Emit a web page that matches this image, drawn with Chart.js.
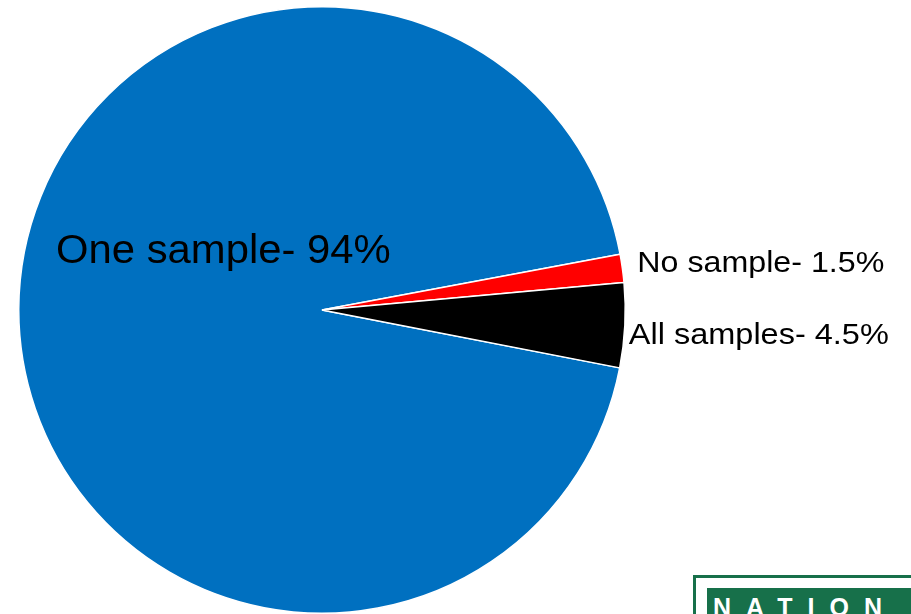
<!DOCTYPE html>
<html>
<head>
<meta charset="utf-8">
<script src="https://cdn.jsdelivr.net/npm/chart.js@4/dist/chart.umd.min.js"></script>
<style>
  html, body { margin: 0; padding: 0; background: #fff; overflow: hidden; }
  #wrap { position: relative; width: 911px; height: 614px; }
  #logo {
    position: absolute; left: 693px; top: 575px; width: 240px; height: 60px;
    border: 3px solid #17704a; box-sizing: border-box; background: #fff;
  }
  #logo span {
    position: absolute; left: 11px; top: 10px; right: 0; height: 50px;
    background: #17704a; color: #fff; font: bold 25px 'Liberation Sans', Arial, sans-serif;
    letter-spacing: 15px; padding-left: 6px; padding-top: 7px; box-sizing: border-box;
    line-height: 1;
  }
</style>
</head>
<body>
<div id="wrap">
  <canvas id="pieChart" width="911" height="614"></canvas>
  <div id="logo"><span>NATION</span></div>
</div>
<script>
// Sampling outcome shares (%)
const labels = ['One sample', 'No sample', 'All samples'];
const values = [94, 1.5, 4.5];
const colors = ['#0070C0', '#FF0000', '#000000'];
const labelTexts = ['One sample- 94%', 'No sample- 1.5%', 'All samples- 4.5%'];

// label placement relative to pie centre / outer edge (text is a bit stretched wide in the original)
const labelStyle = [
    { size: 41, stretch: 1.02, mode: 'center', dx: -266, dy: -58 },
    { size: 29, stretch: 1.11, mode: 'edge', dx: 15, dy: -4 },
    { size: 29, stretch: 1.12, mode: 'edge', dx: 4, dy: 11 }
];

const sliceLabels = {
    id: 'sliceLabels',
    afterDatasetsDraw(chart) {
        const ctx = chart.ctx;
        const meta = chart.getDatasetMeta(0);
        meta.data.forEach((arc, i) => {
            const st = labelStyle[i];
            const mid = (arc.startAngle + arc.endAngle) / 2;
            let x, y;
            if (st.mode === 'edge') {
                x = arc.x + arc.outerRadius * Math.cos(mid) + st.dx;
                y = arc.y + arc.outerRadius * Math.sin(mid) + st.dy;
            } else {
                x = arc.x + st.dx;
                y = arc.y + st.dy;
            }
            ctx.save();
            ctx.fillStyle = '#000';
            ctx.textAlign = 'left';
            ctx.textBaseline = 'middle';
            ctx.font = st.size + "px 'Liberation Sans', Arial, sans-serif";
            ctx.translate(x, y);
            ctx.scale(st.stretch, 1);
            ctx.fillText(labelTexts[i], 0, 0);
            ctx.restore();
        });
    }
};

new Chart(document.getElementById('pieChart'), {
    type: 'pie',
    data: {
        labels: labels,
        datasets: [{
            data: values,
            backgroundColor: colors,
            borderColor: '#ffffff',
            borderWidth: 1.5
        }]
    },
    options: {
        responsive: false,
        animation: false,
        rotation: 101,
        layout: { padding: { left: 18, right: 285, top: 6, bottom: 0 } },
        plugins: {
            legend: { display: false },
            tooltip: { enabled: false }
        }
    },
    plugins: [sliceLabels]
});
</script>
</body>
</html>
